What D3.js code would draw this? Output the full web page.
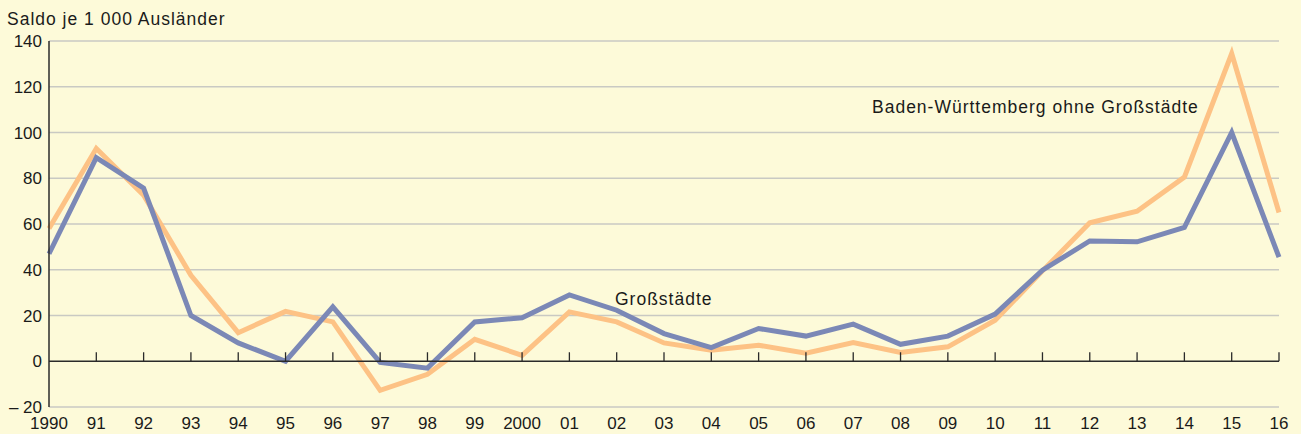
<!DOCTYPE html>
<html>
<head>
<meta charset="utf-8">
<script src="https://cdn.jsdelivr.net/npm/d3@7"></script>
<style>
  html, body { margin: 0; padding: 0; background: #fdfad9; }
  svg { display: block; font-family: "Liberation Sans", Arial, sans-serif; }
</style>
</head>
<body>
<svg id="chart" width="1301" height="434"></svg>
<script>
// Jahre 1990 .. 2016
const years = d3.range(1990, 2017);
const yearLabels = ["1990", "91", "92", "93", "94", "95", "96", "97", "98", "99", "2000",
  "01", "02", "03", "04", "05", "06", "07", "08", "09", "10", "11", "12", "13", "14", "15", "16"];

// Baden-Württemberg ohne Großstädte
const bwOhne = [58, 93, 72.6, 37.6, 12.5, 21.8, 17.2, -12.7, -5.7, 9.6, 2.6,
  21.6, 17.2, 8, 4.8, 7, 3.5, 8.2, 3.8, 6.3, 17.9, 39.5, 60.5, 65.6, 80.5, 134.5, 65];

// Großstädte
const grossstaedte = [47, 89, 75.7, 20, 8, 0, 23.8, -0.5, -3, 17.2, 19,
  29, 22.3, 12.1, 6, 14.3, 11, 16.2, 7.4, 11, 20.6, 39.8, 52.6, 52.2, 58.5, 100, 45.5];

const yTicks = [-20, 0, 20, 40, 60, 80, 100, 120, 140];

const svg = d3.select("#chart");
const m = { left: 49, right: 1279, top: 41, bottom: 407 };

const x = d3.scaleLinear().domain([1990, 2016]).range([m.left, m.right]);
const y = d3.scaleLinear().domain([-20, 140]).range([m.bottom, m.top]);

// Gitterlinien
svg.append("g")
  .selectAll("line")
  .data(yTicks.filter(d => d !== 0))
  .join("line")
  .attr("x1", m.left).attr("x2", m.right)
  .attr("y1", d => y(d)).attr("y2", d => y(d))
  .attr("stroke", "#c9c9c3")
  .attr("stroke-width", 1.3);

// Y-Beschriftung
svg.append("g")
  .selectAll("text")
  .data(yTicks)
  .join("text")
  .attr("x", 42)
  .attr("y", d => y(d))
  .attr("dy", "0.36em")
  .attr("text-anchor", "end")
  .attr("font-size", 17)
  .attr("fill", "#1a1a1a")
  .text(d => d < 0 ? "\u2013 " + Math.abs(d) : d);

// Titel der y-Achse
svg.append("text")
  .attr("x", 7).attr("y", 25)
  .attr("font-size", 17.5)
  .attr("letter-spacing", 1)
  .attr("fill", "#1a1a1a")
  .text("Saldo je 1 000 Ausländer");

// Linien
const line = d3.line()
  .x((d, i) => x(years[i]))
  .y(d => y(d));

svg.append("path")
  .datum(bwOhne)
  .attr("d", line)
  .attr("fill", "none")
  .attr("stroke", "#fdc285")
  .attr("stroke-width", 5)
  .attr("stroke-linejoin", "miter");

svg.append("path")
  .datum(grossstaedte)
  .attr("d", line)
  .attr("fill", "none")
  .attr("stroke", "#7b88b6")
  .attr("stroke-width", 5)
  .attr("stroke-linejoin", "miter");

// Nulllinie + Ticks
svg.append("line")
  .attr("x1", m.left).attr("x2", m.right)
  .attr("y1", y(0)).attr("y2", y(0))
  .attr("stroke", "#2a2a2a")
  .attr("stroke-width", 1.5);

svg.append("g")
  .selectAll("line")
  .data(years.slice(1))
  .join("line")
  .attr("x1", d => x(d)).attr("x2", d => x(d))
  .attr("y1", y(0)).attr("y2", y(0) - 9)
  .attr("stroke", "#2a2a2a")
  .attr("stroke-width", 1.3);

// y-Achse
svg.append("line")
  .attr("x1", m.left).attr("x2", m.left)
  .attr("y1", m.top).attr("y2", m.bottom)
  .attr("stroke", "#2a2a2a")
  .attr("stroke-width", 1.5);

// x-Beschriftung
svg.append("g")
  .selectAll("text")
  .data(years)
  .join("text")
  .attr("x", d => x(d))
  .attr("y", 429)
  .attr("text-anchor", "middle")
  .attr("font-size", 17)
  .attr("fill", "#1a1a1a")
  .text((d, i) => yearLabels[i]);

// Reihenbeschriftungen
svg.append("text")
  .attr("x", 872).attr("y", 113)
  .attr("font-size", 17.5)
  .attr("letter-spacing", 1)
  .attr("fill", "#1a1a1a")
  .text("Baden-Württemberg ohne Großstädte");

svg.append("text")
  .attr("x", 615).attr("y", 305)
  .attr("font-size", 17.5)
  .attr("letter-spacing", 1)
  .attr("fill", "#1a1a1a")
  .text("Großstädte");
</script>
</body>
</html>
